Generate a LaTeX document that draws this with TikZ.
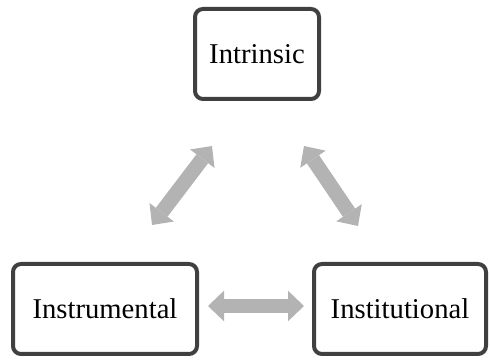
\documentclass[tikz,border=0pt]{standalone}
\usepackage{fontspec}
\setmainfont{Liberation Serif}
\usetikzlibrary{arrows.meta}
\definecolor{boxgray}{HTML}{404040}
\definecolor{arrowgray}{HTML}{B3B3B3}
\tikzset{
  box/.style={draw=boxgray,line width=3pt,rounded corners=6pt,fill=white,inner sep=0pt,
    minimum width=#1,minimum height=67.5pt,font=\fontsize{21.5}{25}\selectfont},
  fathead/.tip={Triangle[length=12pt,width=23pt,line width=0pt]},
  garrow/.style={draw=arrowgray,line width=11pt,fathead-fathead}
}
\begin{document}
\begin{tikzpicture}[x=0.75pt,y=-0.75pt]
      \useasboundingbox (0,0) rectangle (490,363);
      \node[box=93pt] (intr) at (257,54) {Intrinsic};
      \node[box=138pt] (instr) at (105,309) {Instrumental};
      \node[box=129pt] (inst) at (400,309) {Institutional};
      \coordinate (l1) at (212,146); \coordinate (l2) at (152,225);
      \coordinate (r1) at (304,146); \coordinate (r2) at (358,226);
      \coordinate (h1) at (208,306); \coordinate (h2) at (304,306);
      \draw[garrow] (l1) -- (l2);
      \draw[garrow] (r1) -- (r2);
      \draw[garrow] (h1) -- (h2);
    \end{tikzpicture}
\end{document}
